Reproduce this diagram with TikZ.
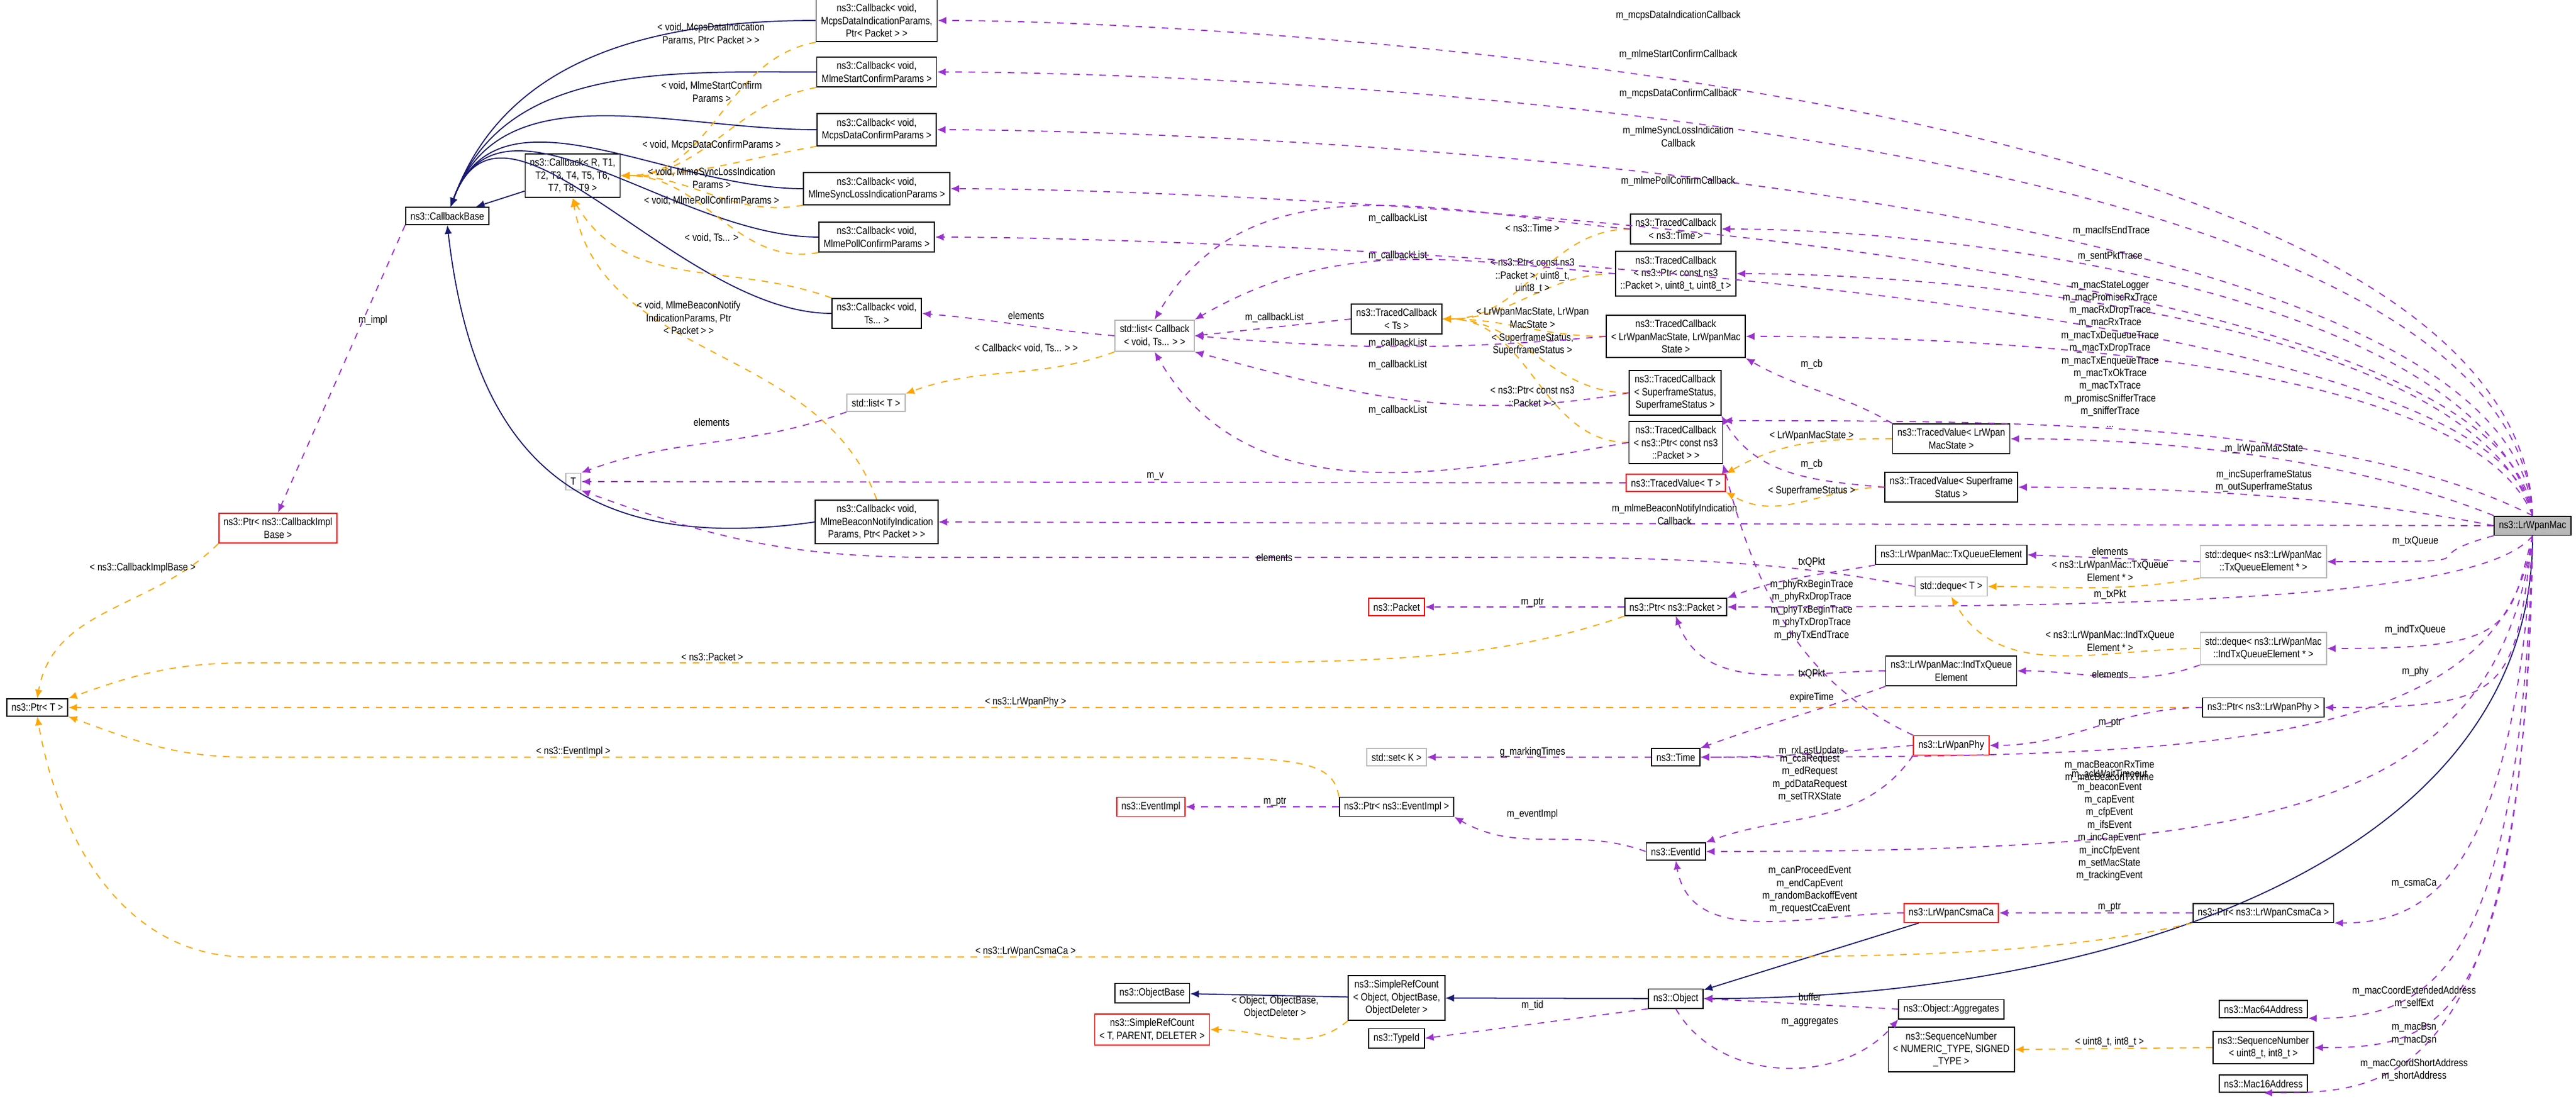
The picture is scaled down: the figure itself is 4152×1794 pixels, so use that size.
\documentclass[tikz,border=0pt]{standalone}
\usepackage{fontspec}
\usetikzlibrary{arrows.meta}
\newfontfamily\dgfamily{Liberation Sans}[FakeStretch=0.85]
\newcommand\dgfnt{\dgfamily\fontsize{4.8}{5.8}\selectfont}
\definecolor{navyc}{RGB}{25,25,112}
\definecolor{purp}{RGB}{154,50,205}
\definecolor{orng}{RGB}{255,165,0}
\tikzset{
  cls/.style={rectangle, draw=black, fill=white, align=center, inner sep=2.2pt, line width=0.5pt, font=\dgfnt},
  ext/.style={cls, draw=red},
  tpl/.style={cls, draw=gray!55},
  cur/.style={cls, fill=gray!55},
  lbl/.style={align=center, inner sep=0pt, font=\dgfnt},
  inh/.style={-{Latex[length=4pt,width=3.4pt]}, draw=navyc, line width=0.5pt},
  mem/.style={-{Latex[length=4pt,width=3.4pt]}, draw=purp, dashed, line width=0.5pt},
  inst/.style={-{Latex[length=4pt,width=3.4pt]}, draw=orng, dashed, line width=0.5pt}
}
\begin{document}
\begin{tikzpicture}[x=0.01cm, y=-0.01cm]
  \useasboundingbox (0,0) rectangle (4152,1794);
  % Callback classes
  \node[cls] (cbBase) at (721,348) {ns3::CallbackBase};
  \node[cls] (cbGen) at (923,283) {ns3::Callback< R, T1,\\T2, T3, T4, T5, T6,\\T7, T8, T9 >};
  \node[ext] (ptrImpl) at (448,851) {ns3::Ptr< ns3::CallbackImpl\\Base >};
  \node[cls] (ptrT) at (60,1140) {ns3::Ptr< T >};
  \node[cls] (cbDataInd) at (1413,33) {ns3::Callback< void,\\McpsDataIndicationParams,\\Ptr< Packet > >};
  \node[cls] (cbStart) at (1413,116) {ns3::Callback< void,\\MlmeStartConfirmParams >};
  \node[cls] (cbDataConf) at (1413,209) {ns3::Callback< void,\\McpsDataConfirmParams >};
  \node[cls] (cbSync) at (1413,304) {ns3::Callback< void,\\MlmeSyncLossIndicationParams >};
  \node[cls] (cbPoll) at (1413,382) {ns3::Callback< void,\\MlmePollConfirmParams >};
  \node[cls] (cbTs) at (1413,505) {ns3::Callback< void,\\Ts... >};
  \node[tpl] (listT) at (1412,649) {std::list< T >};
  \node[cls] (cbBeacon) at (1413,841) {ns3::Callback< void,\\MlmeBeaconNotifyIndication\\Params, Ptr< Packet > >};
  \node[tpl] (tT) at (924,776) {T};
  \node[tpl] (listCb) at (1861,541) {std::list< Callback\\< void, Ts... > >};
  % traced callbacks and values
  \node[cls] (tcTime) at (2701,369) {ns3::TracedCallback\\< ns3::Time >};
  \node[cls] (tcPkt3) at (2701,441) {ns3::TracedCallback\\< ns3::Ptr< const ns3\\::Packet >, uint8\_t, uint8\_t >};
  \node[cls] (tcTs) at (2251,514) {ns3::TracedCallback\\< Ts >};
  \node[cls] (tcState) at (2701,542) {ns3::TracedCallback\\< LrWpanMacState, LrWpanMac\\State >};
  \node[cls] (tcSf) at (2700,633) {ns3::TracedCallback\\< SuperframeStatus,\\SuperframeStatus >};
  \node[cls] (tcPkt) at (2701,713) {ns3::TracedCallback\\< ns3::Ptr< const ns3\\::Packet > >};
  \node[ext] (tvT) at (2701,778) {ns3::TracedValue< T >};
  \node[cls] (tvState) at (3145,707) {ns3::TracedValue< LrWpan\\MacState >};
  \node[cls] (tvSf) at (3145,785) {ns3::TracedValue< Superframe\\Status >};
  % queues, packets, phy
  \node[cls] (txElem) at (3145,894) {ns3::LrWpanMac::TxQueueElement};
  \node[tpl] (dequeT) at (3145,945) {std::deque< T >};
  \node[tpl] (dqTx) at (3648,905) {std::deque< ns3::LrWpanMac\\::TxQueueElement * >};
  \node[tpl] (dqInd) at (3648,1045) {std::deque< ns3::LrWpanMac\\::IndTxQueueElement * >};
  \node[cls] (indElem) at (3145,1081) {ns3::LrWpanMac::IndTxQueue\\Element};
  \node[cls] (ptrPhy) at (3648,1140) {ns3::Ptr< ns3::LrWpanPhy >};
  \node[ext] (phy) at (3145,1201) {ns3::LrWpanPhy};
  \node[ext] (packet) at (2251,978) {ns3::Packet};
  \node[cls] (ptrPkt) at (2701,978) {ns3::Ptr< ns3::Packet >};
  \node[tpl] (setK) at (2251,1220) {std::set< K >};
  \node[cls] (time) at (2701,1220) {ns3::Time};
  \node[ext] (evImpl) at (1855,1300) {ns3::EventImpl};
  \node[cls] (ptrEv) at (2251,1300) {ns3::Ptr< ns3::EventImpl >};
  \node[cls] (evId) at (2701,1372) {ns3::EventId};
  \node[ext] (csma) at (3145,1471) {ns3::LrWpanCsmaCa};
  \node[cls] (ptrCsma) at (3648,1471) {ns3::Ptr< ns3::LrWpanCsmaCa >};
  % objects
  \node[cls] (objBase) at (1857,1600) {ns3::ObjectBase};
  \node[cls] (srcObj) at (2251,1608) {ns3::SimpleRefCount\\< Object, ObjectBase,\\ObjectDeleter >};
  \node[ext] (srcT) at (1857,1659) {ns3::SimpleRefCount\\< T, PARENT, DELETER >};
  \node[cls] (object) at (2701,1609) {ns3::Object};
  \node[cls] (typeId) at (2251,1673) {ns3::TypeId};
  \node[cls] (aggr) at (3145,1626) {ns3::Object::Aggregates};
  \node[cls] (seqGen) at (3145,1691) {ns3::SequenceNumber\\< NUMERIC\_TYPE, SIGNED\\\_TYPE >};
  \node[cls] (mac64) at (3648,1626) {ns3::Mac64Address};
  \node[cls] (seq8) at (3648,1688) {ns3::SequenceNumber\\< uint8\_t, int8\_t >};
  \node[cls] (mac16) at (3648,1746) {ns3::Mac16Address};
  \node[cur] (mac) at (4082,847) {ns3::LrWpanMac};

  % inheritance
  \foreach \c in {cbDataInd,cbStart,cbDataConf,cbSync,cbPoll,cbTs}
    \draw[inh] (\c.west) to[out=180,in=70] (cbBase);
  \draw[inh] (cbBeacon.west) .. controls (900,900) and (760,700) .. (cbBase.south);
  \draw[inh] (cbGen) -- (cbBase);
  \draw[inh] (csma) -- (object);
  \draw[inh] (mac.south) .. controls +(0,550) and +(600,0) .. (object.east);
  \draw[inh] (object) -- (srcObj);
  \draw[inh] (srcObj) -- (objBase);

  % template instances
  \foreach \c in {cbDataInd,cbStart,cbDataConf,cbSync,cbPoll}
    \draw[inst] (\c.south west) to[out=190,in=0] (cbGen.east);
  \draw[inst] (cbTs.north west) to[out=160,in=-60] (cbGen.south);
  \draw[inst] (cbBeacon.north) to[out=110,in=-80] (cbGen.south);
  \node[lbl] (lDataInd) at (1146,55) {< void, McpsDataIndication\\Params, Ptr< Packet > >};
  \node[lbl] (lStart) at (1147,148) {< void, MlmeStartConfirm\\Params >};
  \node[lbl] (lDataConf) at (1147,234) {< void, McpsDataConfirmParams >};
  \node[lbl] (lSync) at (1147,287) {< void, MlmeSyncLossIndication\\Params >};
  \node[lbl] (lPoll) at (1147,323) {< void, MlmePollConfirmParams >};
  \node[lbl] (lTs) at (1147,383) {< void, Ts... >};
  \node[lbl] (lBeacon) at (1110,512) {< void, MlmeBeaconNotify\\IndicationParams, Ptr\\< Packet > >};
  \foreach \c in {tcTime,tcPkt3,tcState,tcSf,tcPkt}
    \draw[inst] (\c.west) to[out=180,in=0] (tcTs.east);
  \node[lbl] (lTime) at (2470,367) {< ns3::Time >};
  \node[lbl] (lPkt3) at (2470,445) {< ns3::Ptr< const ns3\\::Packet >, uint8\_t,\\uint8\_t >};
  \node[lbl] (lState) at (2470,512) {< LrWpanMacState, LrWpan\\MacState >};
  \node[lbl] (lSf) at (2470,555) {< SuperframeStatus,\\SuperframeStatus >};
  \node[lbl] (lPkt) at (2470,639) {< ns3::Ptr< const ns3\\::Packet > >};
  \draw[inst] (listCb.south west) to[out=200,in=20] (listT.north east);
  \node[lbl] (lListCb) at (1654,561) {< Callback< void, Ts... > >};
  \draw[inst] (tvState.west) to[out=180,in=30] (tvT.north east);
  \draw[inst] (tvSf.west) to[out=180,in=-30] (tvT.south east);
  \node[lbl] (lTvState) at (2920,702) {< LrWpanMacState >};
  \node[lbl] (lTvSf) at (2920,791) {< SuperframeStatus >};
  \draw[inst] (dqTx.south west) to[out=190,in=0] (dequeT.east);
  \draw[inst] (dqInd.west) to[out=180,in=-60] (dequeT.south);
  \node[lbl] (lDqTx) at (3401,920) {< ns3::LrWpanMac::TxQueue\\Element * >};
  \node[lbl] (lDqInd) at (3401,1033) {< ns3::LrWpanMac::IndTxQueue\\Element * >};
  \draw[inst] (ptrImpl.south west) to[out=225,in=80] (ptrT.north);
  \draw[inst] (ptrPkt.south west) .. controls (2400,1068) and (2200,1068) .. (1800,1068) -- (400,1068) to[out=180,in=20] (ptrT.north east);
  \draw[inst] (ptrPhy.west) -- (ptrT.east);
  \draw[inst] (ptrEv.north west) .. controls (2150,1230) and (2100,1220) .. (1900,1220) -- (400,1220) to[out=180,in=-20] (ptrT.south east);
  \draw[inst] (ptrCsma.south west) .. controls (3300,1542) and (3000,1542) .. (2700,1542) -- (400,1542) to[out=180,in=-80] (ptrT.south);
  \node[lbl] (lImplB) at (230,915) {< ns3::CallbackImplBase >};
  \node[lbl] (lPacket) at (1148,1058) {< ns3::Packet >};
  \node[lbl] (lPhy) at (1653,1131) {< ns3::LrWpanPhy >};
  \node[lbl] (lEvImpl) at (924,1211) {< ns3::EventImpl >};
  \node[lbl] (lCsma) at (1653,1533) {< ns3::LrWpanCsmaCa >};
  \draw[inst] (srcObj.south west) to[out=220,in=0] (srcT.east);
  \node[lbl] (lSrc) at (2055,1623) {< Object, ObjectBase,\\ObjectDeleter >};
  \draw[inst] (seq8.west) -- (seqGen.east);
  \node[lbl] (lSeq) at (3400,1679) {< uint8\_t, int8\_t >};

  % members, callback side
  \draw[mem] (cbBase.south west) -- (ptrImpl.north);
  \node[lbl] (lImpl) at (601,516) {m\_impl};
  \draw[mem] (listCb.west) to[out=175,in=-5] (cbTs.east);
  \node[lbl] (lEl1) at (1654,508) {elements};
  \draw[mem] (listT.south west) to[out=200,in=20] (tT.north east);
  \node[lbl] (lEl2) at (1147,680) {elements};
  \draw[mem] (tvT.west) -- (tT.east);
  \node[lbl] (lV) at (1862,768) {m\_v};
  \draw[mem] (dequeT.west) .. controls (2950,920) and (2800,895) .. (2400,898) -- (1500,898) to[out=180,in=-20] (tT.south east);
  \node[lbl] (lEl3) at (2054,898) {elements};
  \draw[mem] (tcTime.west) to[out=175,in=60] (listCb.north);
  \draw[mem] (tcPkt3.west) to[out=175,in=30] (listCb.north east);
  \draw[mem] (tcTs.west) -- (listCb.east);
  \draw[mem] (tcState.west) to[out=185,in=-5] (listCb.east);
  \draw[mem] (tcSf.west) to[out=190,in=-15] (listCb.south east);
  \draw[mem] (tcPkt.west) to[out=190,in=-60] (listCb.south);
  \node[lbl] (lCl1) at (2253,352) {m\_callbackList};
  \node[lbl] (lCl2) at (2253,412) {m\_callbackList};
  \node[lbl] (lCl3) at (2054,512) {m\_callbackList};
  \node[lbl] (lCl4) at (2253,553) {m\_callbackList};
  \node[lbl] (lCl5) at (2253,588) {m\_callbackList};
  \node[lbl] (lCl6) at (2253,661) {m\_callbackList};
  \draw[mem] (tvState.north west) to[out=150,in=-30] (tcState.south east);
  \node[lbl] (lCb1) at (2920,587) {m\_cb};
  \draw[mem] (tvSf.west) to[out=175,in=-60] (tcSf.south east);
  \node[lbl] (lCb2) at (2920,748) {m\_cb};

  % members, mac side
  \draw[mem] (mac.north) .. controls +(-20,-700) and +(400,0) .. (cbDataInd.east);
  \draw[mem] (mac.north) .. controls +(-30,-650) and +(400,0) .. (cbStart.east);
  \draw[mem] (mac.north) .. controls +(-40,-550) and +(400,0) .. (cbDataConf.east);
  \draw[mem] (mac.north) .. controls +(-50,-450) and +(400,0) .. (cbSync.east);
  \draw[mem] (mac.north) .. controls +(-60,-380) and +(400,0) .. (cbPoll.east);
  \node[lbl] (mDataInd) at (2705,25) {m\_mcpsDataIndicationCallback};
  \node[lbl] (mStart) at (2705,88) {m\_mlmeStartConfirmCallback};
  \node[lbl] (mDataConf) at (2705,151) {m\_mcpsDataConfirmCallback};
  \node[lbl] (mSync) at (2705,220) {m\_mlmeSyncLossIndication\\Callback};
  \node[lbl] (mPoll) at (2705,292) {m\_mlmePollConfirmCallback};
  \draw[mem] (mac.north) .. controls +(-80,-350) and +(400,0) .. (tcTime.east);
  \draw[mem] (mac.north) .. controls +(-90,-300) and +(400,0) .. (tcPkt3.east);
  \draw[mem] (mac.north) .. controls +(-100,-250) and +(400,0) .. (tcState.east);
  \draw[mem] (mac.north) .. controls +(-300,-150) and +(500,0) .. (tcPkt.north east);
  \draw[mem] (mac.north west) .. controls +(-200,-80) and +(300,0) .. (tvState.east);
  \draw[mem] (mac.west) .. controls +(-200,-40) and +(300,0) .. (tvSf.east);
  \draw[mem] (mac.west) -- (cbBeacon.east);
  \node[lbl] (mIfs) at (3403,372) {m\_macIfsEndTrace};
  \node[lbl] (mSent) at (3401,413) {m\_sentPktTrace};
  \node[lbl] (mLog) at (3401,460) {m\_macStateLogger};
  \node[lbl] (mTraces) at (3401,580) {m\_macPromiscRxTrace\\m\_macRxDropTrace\\m\_macRxTrace\\m\_macTxDequeueTrace\\m\_macTxDropTrace\\m\_macTxEnqueueTrace\\m\_macTxOkTrace\\m\_macTxTrace\\m\_promiscSnifferTrace\\m\_snifferTrace\\...};
  \node[lbl] (mState) at (3649,723) {m\_lrWpanMacState};
  \node[lbl] (mSf) at (3649,775) {m\_incSuperframeStatus\\m\_outSuperframeStatus};
  \node[lbl] (mBeacon) at (2699,829) {m\_mlmeBeaconNotifyIndication\\Callback};
  \draw[mem] (mac.south west) .. controls +(-150,40) and +(300,0) .. (dqTx.east);
  \draw[mem] (mac.south) .. controls +(-80,100) and +(700,0) .. (ptrPkt.east);
  \draw[mem] (mac.south) .. controls +(-40,150) and +(300,0) .. (dqInd.east);
  \draw[mem] (mac.south) .. controls +(-30,250) and +(300,0) .. (ptrPhy.east);
  \draw[mem] (mac.south) .. controls +(-50,350) and +(800,0) .. (time.east);
  \draw[mem] (mac.south) .. controls +(-60,450) and +(900,0) .. (evId.east);
  \draw[mem] (mac.south) .. controls +(-30,550) and +(150,0) .. (ptrCsma.south east);
  \draw[mem] (mac.south) .. controls +(-20,700) and +(200,0) .. (mac64.south east);
  \draw[mem] (mac.south) .. controls +(-15,800) and +(200,0) .. (seq8.east);
  \draw[mem] (mac.south) .. controls +(-10,900) and +(200,0) .. (mac16.south);
  \node[lbl] (mTxQ) at (3893,872) {m\_txQueue};
  \node[lbl] (mTxPkt) at (3401,958) {m\_txPkt};
  \node[lbl] (mIndQ) at (3893,1015) {m\_indTxQueue};
  \node[lbl] (mPhy) at (3893,1082) {m\_phy};
  \node[lbl] (mBcTime) at (3400,1243) {m\_macBeaconRxTime\\m\_macBeaconTxTime};
  \node[lbl] (mEvents) at (3400,1330) {m\_ackWaitTimeout\\m\_beaconEvent\\m\_capEvent\\m\_cfpEvent\\m\_ifsEvent\\m\_incCapEvent\\m\_incCfpEvent\\m\_setMacState\\m\_trackingEvent};
  \node[lbl] (mCsma) at (3891,1423) {m\_csmaCa};
  \node[lbl] (mExt) at (3891,1607) {m\_macCoordExtendedAddress\\m\_selfExt};
  \node[lbl] (mBsn) at (3891,1666) {m\_macBsn\\m\_macDsn};
  \node[lbl] (mShort) at (3891,1724) {m\_macCoordShortAddress\\m\_shortAddress};

  % members, queues and phy
  \draw[mem] (dqTx.west) -- (txElem.east);
  \node[lbl] (lEl4) at (3401,888) {elements};
  \draw[mem] (dqInd.south west) to[out=200,in=0] (indElem.east);
  \node[lbl] (lEl5) at (3401,1086) {elements};
  \draw[mem] (txElem.south west) to[out=190,in=20] (ptrPkt.north east);
  \node[lbl] (lTxQ1) at (2920,906) {txQPkt};
  \draw[mem] (indElem.west) to[out=180,in=-70] (ptrPkt.south);
  \node[lbl] (lTxQ2) at (2920,1086) {txQPkt};
  \draw[mem] (indElem.south west) to[out=200,in=20] (time.north east);
  \node[lbl] (lExp) at (2920,1124) {expireTime};
  \draw[mem] (ptrPkt.west) -- (packet.east);
  \node[lbl] (lPtr1) at (2470,971) {m\_ptr};
  \draw[mem] (phy.north west) .. controls (2900,1100) and (2830,950) .. (tcPkt.south east);
  \node[lbl] (lPhyTr) at (2920,983) {m\_phyRxBeginTrace\\m\_phyRxDropTrace\\m\_phyTxBeginTrace\\m\_phyTxDropTrace\\m\_phyTxEndTrace};
  \draw[mem] (ptrPhy.west) to[out=180,in=0] (phy.east);
  \node[lbl] (lPtr2) at (3401,1165) {m\_ptr};
  \draw[mem] (phy.west) to[out=185,in=0] (time.east);
  \node[lbl] (lRx) at (2920,1210) {m\_rxLastUpdate};
  \draw[mem] (phy.south west) to[out=235,in=20] (evId.north east);
  \node[lbl] (lCca) at (2917,1254) {m\_ccaRequest\\m\_edRequest\\m\_pdDataRequest\\m\_setTRXState};
  \draw[mem] (time.west) -- (setK.east);
  \node[lbl] (lMark) at (2470,1212) {g\_markingTimes};
  \draw[mem] (ptrEv.west) -- (evImpl.east);
  \node[lbl] (lPtr3) at (2055,1292) {m\_ptr};
  \draw[mem] (evId.west) to[out=160,in=-30] (ptrEv.south east);
  \node[lbl] (lEvI) at (2470,1312) {m\_eventImpl};
  \draw[mem] (csma.west) to[out=180,in=-80] (evId.south);
  \node[lbl] (lCsmaEv) at (2917,1434) {m\_canProceedEvent\\m\_endCapEvent\\m\_randomBackoffEvent\\m\_requestCcaEvent};
  \draw[mem] (ptrCsma.west) -- (csma.east);
  \node[lbl] (lPtr4) at (3400,1462) {m\_ptr};
  \draw[mem] (object.south west) -- (typeId.east);
  \node[lbl] (lTid) at (2470,1620) {m\_tid};
  \draw[mem] (aggr.west) -- (object.east);
  \node[lbl] (lBuf) at (2917,1606) {buffer};
  \draw[mem] (object.south) to[out=-60,in=-130] (aggr.south west);
  \node[lbl] (lAggr) at (2917,1647) {m\_aggregates};
\end{tikzpicture}
\end{document}
